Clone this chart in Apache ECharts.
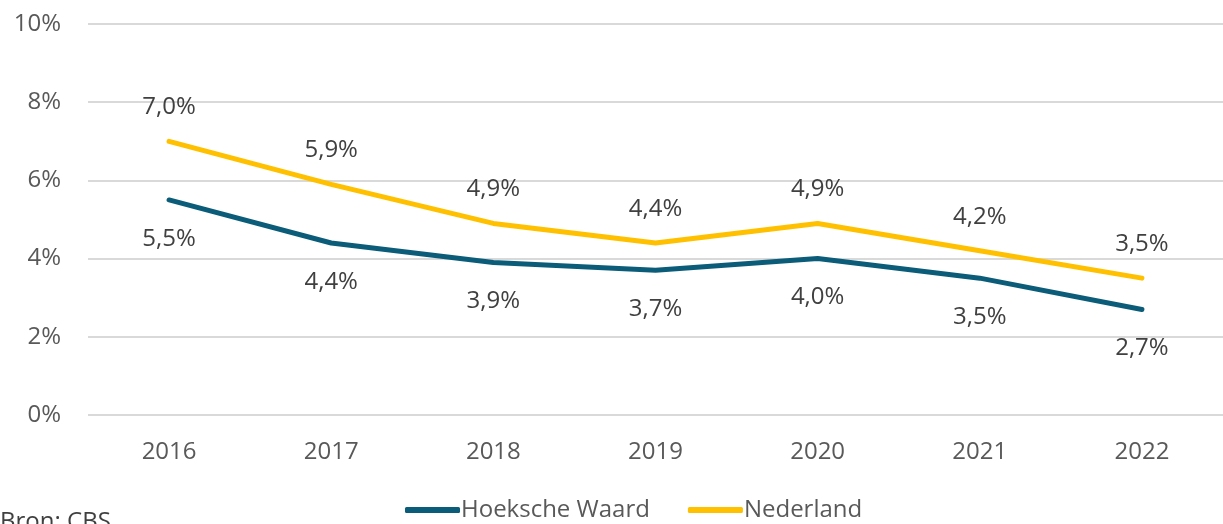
<!DOCTYPE html>
<html lang="nl">
<head>
    <meta charset="UTF-8">
    <title>Hoeksche Waard vs Nederland</title>
    <script src="https://cdn.jsdelivr.net/npm/echarts@6.0.0/dist/echarts.min.js"></script>
    <style>
        html, body { margin: 0; padding: 0; background: #fff; }
        #chart { width: 1223px; height: 524px; }
    </style>
</head>
<body>
    <div id="chart"></div>
    <script>
        const years = ['2016', '2017', '2018', '2019', '2020', '2021', '2022']
        const hoekscheWaard = [5.5, 4.4, 3.9, 3.7, 4.0, 3.5, 2.7]
        const nederland = [7.0, 5.9, 4.9, 4.4, 4.9, 4.2, 3.5]

        const font = 'Open Sans'
        const pct = (v) => v.toFixed(1).replace('.', ',') + '%'

        const chart = echarts.init(document.getElementById('chart'))

        const option = {
            animation: false,
            textStyle: { fontFamily: font },
            grid: { left: 88, right: -11, top: 24, bottom: 109 },
            legend: {
                left: 400,
                top: 493,
                icon: 'roundRect',
                itemWidth: 55,
                itemHeight: 6,
                itemGap: 38,
                textStyle: { fontFamily: font, fontSize: 24, color: '#595959', padding: [0, 0, 0, -4] },
                data: ['Hoeksche Waard', 'Nederland']
            },
            graphic: [{
                type: 'text',
                left: 0,
                top: 510,
                style: { text: 'Bron: CBS', fontFamily: font, fontSize: 24, fill: '#404040' }
            }],
            xAxis: {
                type: 'category',
                data: years,
                axisLine: { show: false },
                axisTick: { show: false },
                axisLabel: { fontSize: 24, color: '#595959', margin: 25 }
            },
            yAxis: {
                type: 'value',
                min: 0,
                max: 10,
                interval: 2,
                axisLabel: { formatter: '{value}%', fontSize: 24, color: '#595959', margin: 27 },
                splitLine: { lineStyle: { color: '#d9d9d9', width: 2 } }
            },
            series: [{
                name: 'Hoeksche Waard',
                type: 'line',
                data: hoekscheWaard,
                symbol: 'circle',
                symbolSize: 0,
                color: '#0B5C78',
                lineStyle: { width: 5, cap: 'round' },
                label: {
                    show: true,
                    position: 'bottom',
                    distance: 27,
                    formatter: (p) => pct(p.value),
                    fontSize: 24,
                    color: '#404040'
                }
            }, {
                name: 'Nederland',
                type: 'line',
                data: nederland,
                symbol: 'circle',
                symbolSize: 0,
                color: '#FFC000',
                lineStyle: { width: 5, cap: 'round' },
                label: {
                    show: true,
                    position: 'top',
                    distance: 22,
                    formatter: (p) => pct(p.value),
                    fontSize: 24,
                    color: '#404040'
                }
            }]
        }

        chart.setOption(option)
    </script>
</body>
</html>
